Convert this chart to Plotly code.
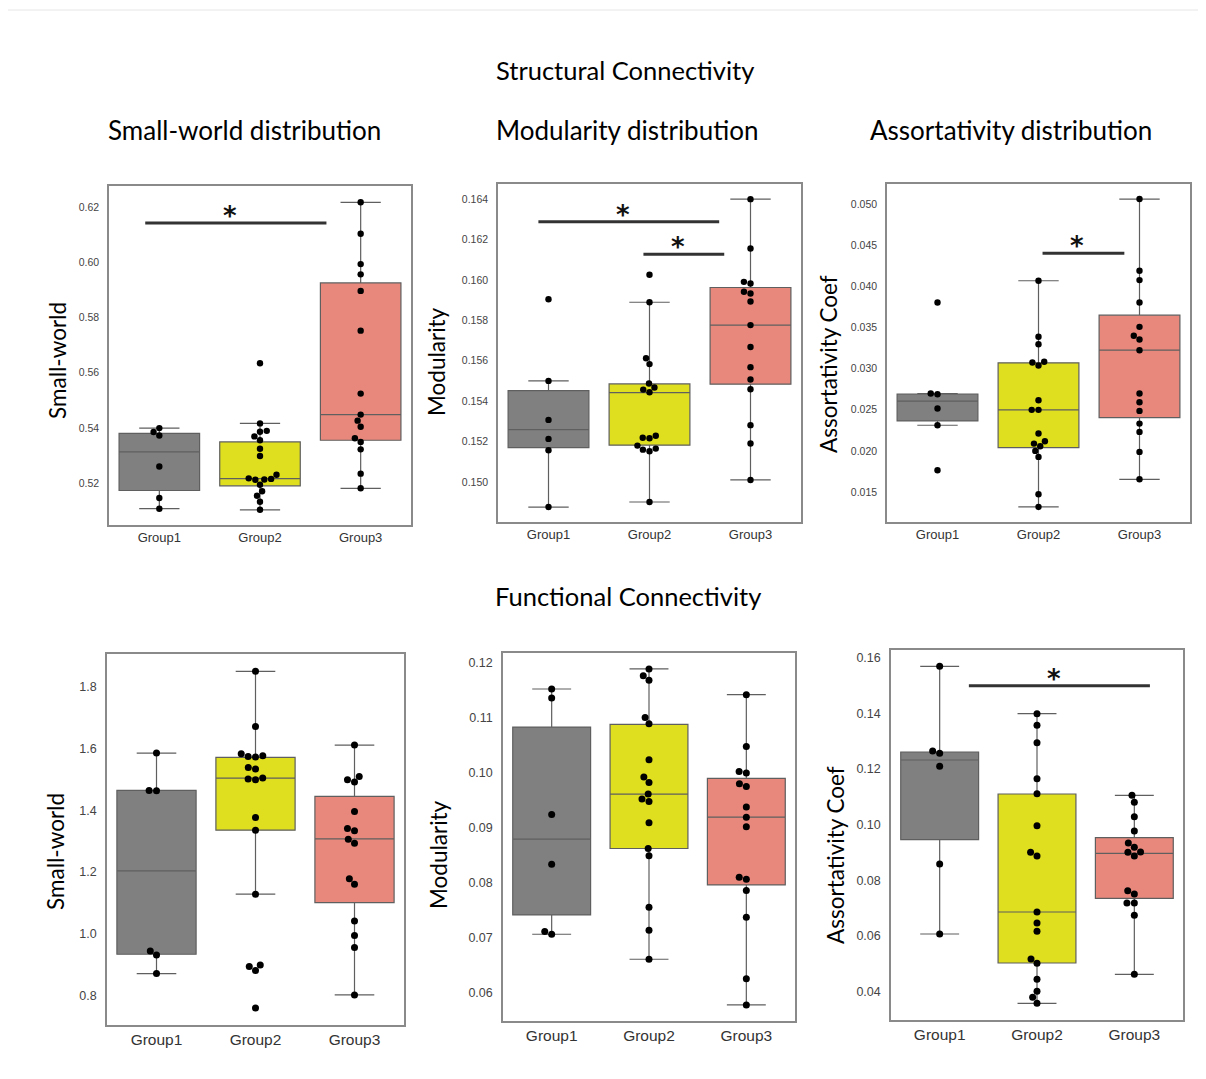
import plotly.graph_objects as go

# the page puts an 8px margin round the plot, so the figure is drawn smaller
# and every reference pixel position is shifted by OFF
OFF = 8
W, H = 1206 - 2 * OFF, 1079 - 2 * OFF

groups = ["Group1", "Group2", "Group3"]
fills = ["#808080", "#dfdf1f", "#e8887d"]

# ---------------- data ----------------
# Structural - small-world
sw_s_g1 = [0.5399, 0.5385, 0.5372, 0.5260, 0.5146, 0.5107]
sw_s_g2 = [0.5634, 0.5416, 0.5389, 0.5386, 0.5369, 0.5355, 0.5324, 0.5298, 0.5230,
           0.5217, 0.5215, 0.5213, 0.5212, 0.5194, 0.5170, 0.5154, 0.5132, 0.5103]
sw_s_g3 = [0.6217, 0.6103, 0.5993, 0.5956, 0.5896, 0.5752, 0.5524, 0.5448, 0.5426,
           0.5404, 0.5362, 0.5349, 0.5322, 0.5234, 0.5181]
sw_s_box = dict(lo=[0.5107, 0.5103, 0.5181], q1=[0.5173, 0.5190, 0.5355],
                med=[0.5313, 0.5216, 0.5448], q3=[0.5380, 0.5349, 0.5925],
                hi=[0.5399, 0.5416, 0.6217])

# Structural - modularity
mod_s_g1 = [0.15904, 0.15500, 0.15307, 0.15213, 0.15157, 0.14876]
mod_s_g2 = [0.16025, 0.15889, 0.15612, 0.15583, 0.15487, 0.15467, 0.15457, 0.15444,
            0.15229, 0.15219, 0.15216, 0.15180, 0.15165, 0.15160, 0.15152, 0.14901]
mod_s_g3 = [0.16399, 0.16155, 0.15990, 0.15982, 0.15941, 0.15932, 0.15893, 0.15776,
            0.15668, 0.15568, 0.15507, 0.15459, 0.15281, 0.15190, 0.15010]
mod_s_box = dict(lo=[0.14876, 0.14901, 0.15010], q1=[0.15170, 0.15182, 0.15484],
                 med=[0.15259, 0.15442, 0.15776], q3=[0.15452, 0.15485, 0.15962],
                 hi=[0.15500, 0.15889, 0.16399])

# Structural - assortativity
as_s_g1 = [0.03803, 0.02696, 0.02688, 0.02514, 0.02311, 0.01764]
as_s_g2 = [0.04067, 0.03386, 0.03296, 0.03082, 0.03073, 0.03037, 0.02615, 0.02498,
           0.02498, 0.02210, 0.02116, 0.02088, 0.02056, 0.01999, 0.01926, 0.01472, 0.01318]
as_s_g3 = [0.05060, 0.04189, 0.04075, 0.03803, 0.03507, 0.03398, 0.03353, 0.03223,
           0.02696, 0.02591, 0.02485, 0.02331, 0.02230, 0.01987, 0.01654]
as_s_box = dict(lo=[0.02311, 0.01318, 0.01654], q1=[0.02364, 0.02039, 0.02404],
                med=[0.02603, 0.02498, 0.03223], q3=[0.02688, 0.03069, 0.03649],
                hi=[0.02696, 0.04067, 0.05060])

# Functional - small-world
sw_f_g1 = [1.5845, 1.4638, 1.4627, 0.9455, 0.9325, 0.8722]
sw_f_g2 = [1.8485, 1.6707, 1.5823, 1.5759, 1.5737, 1.5716, 1.5381, 1.5328, 1.5037,
           1.5004, 1.4983, 1.3765, 1.3356, 1.1287, 0.9002, 0.8948, 0.8819, 0.7612]
sw_f_g3 = [1.6103, 1.5091, 1.4983, 1.4907, 1.3959, 1.3410, 1.3334, 1.3065, 1.2935,
           1.1782, 1.1610, 1.0425, 0.9950, 0.9563, 0.8032]
sw_f_box = dict(lo=[0.8722, 1.1287, 0.8032], q1=[0.9347, 1.3356, 1.1017],
                med=[1.2041, 1.5037, 1.3075], q3=[1.4638, 1.5705, 1.4444],
                hi=[1.5845, 1.8485, 1.6103])

# Functional - modularity
mod_f_g1 = [0.11526, 0.11362, 0.09240, 0.08334, 0.07106, 0.07058]
mod_f_g2 = [0.11891, 0.11769, 0.11684, 0.11009, 0.10894, 0.10237, 0.09921, 0.09824,
            0.09611, 0.09520, 0.09477, 0.09088, 0.08620, 0.08486, 0.07550, 0.07131, 0.06602]
mod_f_g3 = [0.11422, 0.10480, 0.10024, 0.09994, 0.09799, 0.09751, 0.09374, 0.09191,
            0.09015, 0.08097, 0.08061, 0.07854, 0.07368, 0.06249, 0.05769]
mod_f_box = dict(lo=[0.07058, 0.06602, 0.05769], q1=[0.07410, 0.08620, 0.07957],
                 med=[0.08790, 0.09611, 0.09191], q3=[0.10833, 0.10881, 0.09897],
                 hi=[0.11526, 0.11891, 0.11422])

# Functional - assortativity
as_f_g1 = [0.15689, 0.12647, 0.12563, 0.12096, 0.08587, 0.06072]
as_f_g2 = [0.13988, 0.13569, 0.12946, 0.11653, 0.11114, 0.09964, 0.09006, 0.08874,
           0.06862, 0.06467, 0.06168, 0.05174, 0.05018, 0.04443, 0.04012, 0.03796, 0.03581]
as_f_g3 = [0.11054, 0.10802, 0.10287, 0.09772, 0.09341, 0.09186, 0.09018, 0.09006,
           0.08874, 0.07629, 0.07509, 0.07186, 0.07186, 0.06743, 0.04623]
as_f_box = dict(lo=[0.06072, 0.03581, 0.04623], q1=[0.09461, 0.05030, 0.07353],
                med=[0.12323, 0.06862, 0.08970], q3=[0.12611, 0.11102, 0.09533],
                hi=[0.15689, 0.13988, 0.11054])

# significance bars: (x from, x to, y level) in group units
sig_sw_s = [(-0.14, 1.66, 0.6142)]
sig_mod_s = [(-0.10, 1.69, 0.16287), (0.94, 1.74, 0.16127)]
sig_as_s = [(1.04, 1.85, 0.0440)]
sig_as_f = [(0.30, 2.16, 0.14994)]

# ---------------- panel layout (pixel frames in the reference) ----------------
panels = [
    dict(pts=[sw_s_g1, sw_s_g2, sw_s_g3], box=sw_s_box, sig=sig_sw_s,
         frame=(109, 411, 186, 525), yr=[0.5048, 0.6276], t0=0.52, dt=0.02, fmt=".2f",
         ytitle="Small-world", tx=57, ty=361, top=True),
    dict(pts=[mod_s_g1, mod_s_g2, mod_s_g3], box=mod_s_box, sig=sig_mod_s,
         frame=(498, 801, 184, 522), yr=[0.14802, 0.16474], t0=0.150, dt=0.002, fmt=".3f",
         ytitle="Modularity", tx=437, ty=362, top=True),
    dict(pts=[as_s_g1, as_s_g2, as_s_g3], box=as_s_box, sig=sig_as_s,
         frame=(887, 1190, 184, 522), yr=[0.01135, 0.05243], t0=0.015, dt=0.005, fmt=".3f",
         ytitle="Assortativity Coef", tx=828, ty=364, top=True),
    dict(pts=[sw_f_g1, sw_f_g2, sw_f_g3], box=sw_f_box, sig=[],
         frame=(107, 404, 654, 1025), yr=[0.7062, 1.9045], t0=0.8, dt=0.2, fmt=".1f",
         ytitle="Small-world", tx=55, ty=852, top=False),
    dict(pts=[mod_f_g1, mod_f_g2, mod_f_g3], box=mod_f_box, sig=[],
         frame=(503, 795, 653, 1021), yr=[0.05477, 0.12182], t0=0.06, dt=0.01, fmt=".2f",
         ytitle="Modularity", tx=438, ty=855, top=False),
    dict(pts=[as_f_g1, as_f_g2, as_f_g3], box=as_f_box, sig=sig_as_f,
         frame=(891, 1183, 650, 1020), yr=[0.02982, 0.16275], t0=0.04, dt=0.02, fmt=".2f",
         ytitle="Assortativity Coef", tx=835, ty=855, top=False),
]


def px_x(v):
    return (v - OFF) / W


def px_y(v):
    return 1 - (v - OFF) / H


def swarm(vals, ppu_y, ppu_x, d):
    # simple beeswarm: place points bottom-up, nearest free slot to the centre
    order = sorted(range(len(vals)), key=lambda i: vals[i])
    placed = []
    offs = [0.0] * len(vals)
    for i in order:
        y = vals[i] * ppu_y
        near = [(py, px) for py, px in placed if abs(py - y) < d]
        cands = [0.0]
        for py, px in near:
            dx = (d * d - (py - y) ** 2) ** 0.5
            cands += [px - dx, px + dx]
        cands.sort(key=lambda c: (round(abs(c), 3), c))
        pick = cands[-1]
        for c in cands:
            if all((c - px) ** 2 + (py - y) ** 2 >= d * d - 1e-6 for py, px in near):
                pick = c
                break
        placed.append((y, pick))
        offs[i] = pick / ppu_x
    return offs


fig = go.Figure()
annotations = []
shapes = []
axis_font = "Liberation Sans, Arial, sans-serif"
edge = "#5f5f5f"

for k, p in enumerate(panels, start=1):
    xs = "" if k == 1 else str(k)
    xref, yref = "x" + xs, "y" + xs
    x0, x1, y0, y1 = p["frame"]
    wpx, hpx = x1 - x0, y1 - y0
    ppu_y = hpx / (p["yr"][1] - p["yr"][0])
    ppu_x = wpx / 3.0
    b = p["box"]

    for g in range(3):
        fig.add_trace(go.Box(
            x=[g], q1=[b["q1"][g]], median=[b["med"][g]], q3=[b["q3"][g]],
            lowerfence=[b["lo"][g]], upperfence=[b["hi"][g]],
            width=0.8, whiskerwidth=0.5, boxpoints=False,
            fillcolor=fills[g], line=dict(color=edge, width=1.2),
            xaxis=xref, yaxis=yref, showlegend=False, hoverinfo="skip",
        ))
        vals = p["pts"][g]
        d = 6.8 if p["top"] else 7.4
        offs = swarm(vals, ppu_y, ppu_x, d)
        fig.add_trace(go.Scatter(
            x=[g + o for o in offs], y=vals, mode="markers",
            marker=dict(color="black", size=6.4 if p["top"] else 7),
            xaxis=xref, yaxis=yref, showlegend=False, hoverinfo="skip",
        ))

    for sx0, sx1, sy in p["sig"]:
        shapes.append(dict(type="line", xref=xref, yref=yref, x0=sx0, x1=sx1,
                           y0=sy, y1=sy, line=dict(color="#333333", width=3)))
        annotations.append(dict(xref=xref, yref=yref, x=(sx0 + sx1) / 2 - 0.06,
                                y=sy, yshift=7, text="<b>*</b>", showarrow=False,
                                yanchor="middle",
                                font=dict(family="DejaVu Sans, sans-serif", size=26,
                                          color="#111111")))

    tick_sz = 10.5 if p["top"] else 12.5
    xlab_sz = 13 if p["top"] else 15.5
    fig.layout["xaxis" + xs] = dict(
        domain=[px_x(x0), px_x(x1)], range=[-0.5, 2.5], anchor=yref,
        tickvals=[0, 1, 2], ticktext=groups, showgrid=False, zeroline=False,
        showline=True, mirror=True, linecolor="#8a8a8a", linewidth=1.5,
        ticks="", ticklabelstandoff=0,
        tickfont=dict(family=axis_font, size=xlab_sz, color="#333333"),
    )
    fig.layout["yaxis" + xs] = dict(
        domain=[px_y(y1), px_y(y0)], range=p["yr"], anchor=xref,
        tick0=p["t0"], dtick=p["dt"], tickformat=p["fmt"],
        showgrid=False, zeroline=False,
        showline=True, mirror=True, linecolor="#8a8a8a", linewidth=1.5,
        ticks="", ticklabelstandoff=6,
        tickfont=dict(family=axis_font, size=tick_sz, color="#444444"),
    )
    annotations.append(dict(xref="paper", yref="paper", x=px_x(p["tx"]), y=px_y(p["ty"]),
                            text=p["ytitle"], textangle=-90, showarrow=False,
                            xanchor="center", yanchor="middle",
                            font=dict(family="Lato, sans-serif", size=22.5, color="#000000")))

titles = [
    ("Structural Connectivity", 625, 70, 25.5),
    ("Small-world distribution", 245, 130, 26),
    ("Modularity distribution", 627, 130, 26),
    ("Assortativity distribution", 1011, 130, 26),
    ("Functional Connectivity", 628, 596, 25.5),
]
for txt, cx, cy, sz in titles:
    annotations.append(dict(xref="paper", yref="paper", x=px_x(cx), y=px_y(cy),
                            text=txt, showarrow=False, xanchor="center", yanchor="middle",
                            font=dict(family="Lato, sans-serif", size=sz, color="#000000")))

# faint border line at the top of the image
shapes.append(dict(type="line", xref="paper", yref="paper", x0=0, x1=1,
                   y0=px_y(10), y1=px_y(10), line=dict(color="#e6e6e6", width=1)))

fig.update_layout(
    width=W, height=H,
    margin=dict(l=0, r=0, t=0, b=0),
    paper_bgcolor="white", plot_bgcolor="white",
    annotations=annotations, shapes=shapes,
    showlegend=False,
)

fig.write_html("out.html")
